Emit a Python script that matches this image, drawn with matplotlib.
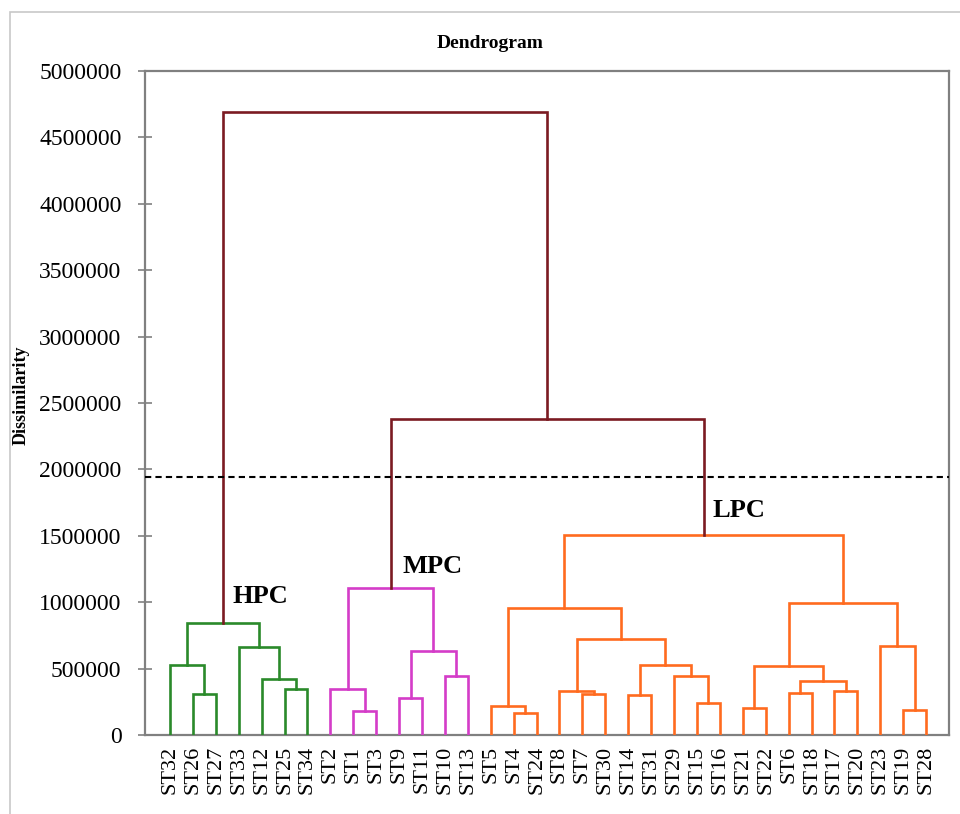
import matplotlib
matplotlib.use("Agg")
import matplotlib.pyplot as plt
from matplotlib.patches import Rectangle

# ---- data ----
leaves = ["ST32", "ST26", "ST27", "ST33", "ST12", "ST25", "ST34",
          "ST2", "ST1", "ST3", "ST9", "ST11", "ST10", "ST13",
          "ST5", "ST4", "ST24", "ST8", "ST7", "ST30", "ST14", "ST31",
          "ST29", "ST15", "ST16", "ST21", "ST22", "ST6", "ST18", "ST17",
          "ST20", "ST23", "ST19", "ST28"]

# merges: (child a, child b, height); leaves are 0..33, merges get ids 34, 35, ...
merge_a = [1, 0, 5, 4, 3, 35,
           8, 7, 10, 12, 42, 41,
           15, 14, 18, 17, 20, 23, 22, 50, 49, 47,
           25, 27, 29, 57, 56, 32, 31, 60, 55,
           45, 39]
merge_b = [2, 34, 6, 36, 37, 38,
           9, 40, 11, 13, 43, 44,
           16, 46, 19, 48, 21, 24, 51, 52, 53, 54,
           26, 28, 30, 58, 59, 33, 61, 62, 63,
           64, 65]
merge_h = [305000, 530000, 345000, 420000, 665000, 840000,
           180000, 345000, 275000, 445000, 630000, 1105000,
           165000, 215000, 310000, 335000, 300000, 240000, 445000, 530000, 725000, 955000,
           200000, 320000, 335000, 405000, 520000, 190000, 670000, 995000, 1505000,
           2380000, 4690000]
merge_group = ["HPC"] * 6 + ["MPC"] * 6 + ["LPC"] * 19 + ["top"] * 2

cut_level = 1940000
cluster_names = ["HPC", "MPC", "LPC"]
cluster_label_pos = [(2.71, 994000), (10.14, 1220000), (23.69, 1640000)]

colors = {"HPC": "#2A8A2A", "MPC": "#D43CC8", "LPC": "#FF6B1F", "top": "#7B1A22"}

# ---- figure ----
fig = plt.figure(figsize=(9.6, 8.14), dpi=100)
ax = fig.add_axes([145 / 960, (814 - 735) / 814, (949 - 145) / 960, (735 - 71) / 814])

n = len(leaves)
xpos = {i: float(i) for i in range(n)}
ypos = {i: 0.0 for i in range(n)}
for k, (a, b, h, g) in enumerate(zip(merge_a, merge_b, merge_h, merge_group)):
    node = n + k
    xa, xb = xpos[a], xpos[b]
    ya, yb = ypos[a], ypos[b]
    ax.plot([xa, xa, xb, xb], [ya, h, h, yb], color=colors[g], lw=1.9,
            solid_joinstyle="miter", zorder=3)
    xpos[node] = (xa + xb) / 2
    ypos[node] = h

ax.axhline(cut_level, color="black", ls=(0, (3, 2)), lw=1.5, zorder=4)

for name, (lx, ly) in zip(cluster_names, cluster_label_pos):
    ax.text(lx, ly, name, fontsize=19, fontweight="bold", family="Liberation Serif",
            ha="left", va="baseline", zorder=5)

ax.set_xlim(-1.09, 34.0)
ax.set_ylim(0, 5000000)
ax.set_yticks(range(0, 5000001, 500000))
ax.set_yticklabels([str(v) for v in range(0, 5000001, 500000)],
                   fontsize=17, family="Liberation Serif")
ax.set_xticks(range(n))
ax.set_xticklabels(leaves, rotation=90, fontsize=16, family="Liberation Serif")
ax.tick_params(axis="x", length=0, pad=8)
ax.tick_params(axis="y", direction="inout", length=10, width=1.2, color="#808080", pad=12)
for s in ax.spines.values():
    s.set_color("#808080")
    s.set_linewidth(1.6)

ax.set_ylabel("Dissimilarity", fontsize=13, fontweight="bold", family="Liberation Serif")
ax.yaxis.set_label_coords(-(146 - 31) / 804, (735 - 395) / 664)

fig.text(490 / 960, 1 - 44 / 814, "Dendrogram", fontsize=14, fontweight="bold",
         family="Liberation Serif", ha="center", va="center")

fig.patches.append(Rectangle((10 / 960, -0.2), 1.2, 1.2 - 12 / 814, transform=fig.transFigure,
                             fill=False, edgecolor="#C8C8C8", lw=1.2))

fig.savefig("out.png", dpi=100)
